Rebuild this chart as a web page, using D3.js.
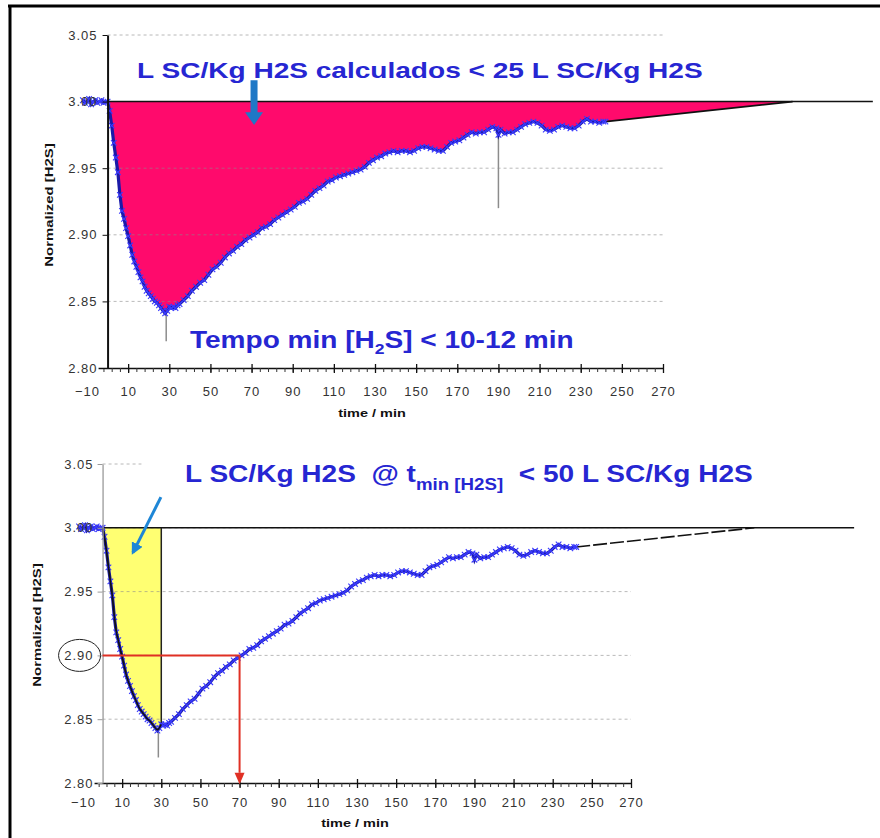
<!DOCTYPE html>
<html>
<head>
<meta charset="utf-8">
<script src="https://cdn.jsdelivr.net/npm/d3@7"></script>
<style>
  body { margin: 0; background: #fff; }
  svg text { font-family: "Liberation Sans", Arial, sans-serif; white-space: pre; }
</style>
</head>
<body>
<svg id="chart" width="880" height="838"></svg>
<script>
// time (min) and normalized [H2S]
const times = [
  -12, -11, -10, -9, -8, -7, -6, -5, -4, -3,
  -2, -1, 0, 1, 2, 3, 4, 5, 6, 7,
  8, 9, 10, 11, 12, 13, 14, 15, 16, 17,
  18, 19, 20, 21, 22, 23, 24, 25, 26, 27,
  28, 29, 30, 31, 32, 33, 34, 35, 37, 39,
  41, 43, 45, 47, 49, 51, 53, 55, 57, 59,
  61, 63, 65, 67, 69, 71, 73, 75, 77, 79,
  81, 83, 85, 87, 89, 91, 93, 95, 97, 99,
  101, 103, 105, 107, 109, 111, 113, 115, 117, 119,
  121, 123, 125, 127, 129, 131, 133, 135, 137, 139,
  141, 143, 145, 147, 149, 151, 153, 155, 157, 159,
  161, 163, 165, 167, 169, 171, 173, 175, 177, 179,
  181, 183, 185, 187, 189, 190, 191, 193, 195, 197,
  199, 201, 203, 205, 207, 209, 211, 213, 215, 217,
  219, 221, 223, 225, 227, 229, 231, 233, 235, 237,
  239, 241, 242
];
const h2s = [
  3.001, 2.999, 3.000, 3.002, 2.998, 3.000, 3.001, 2.999, 3.000, 3.001,
  2.999, 3.000, 3.000, 2.993, 2.982, 2.969, 2.958, 2.947, 2.930, 2.918,
  2.912, 2.905, 2.899, 2.892, 2.885, 2.880, 2.876, 2.872, 2.868, 2.865,
  2.861, 2.858, 2.856, 2.854, 2.852, 2.850, 2.849, 2.847, 2.845, 2.843,
  2.841, 2.843, 2.846, 2.845, 2.846, 2.845, 2.847, 2.848, 2.851, 2.854,
  2.858, 2.861, 2.864, 2.866, 2.870, 2.874, 2.876, 2.879, 2.883, 2.886,
  2.888, 2.891, 2.893, 2.896, 2.898, 2.900, 2.902, 2.905, 2.906, 2.908,
  2.911, 2.913, 2.915, 2.917, 2.919, 2.921, 2.924, 2.925, 2.927, 2.930,
  2.933, 2.935, 2.937, 2.940, 2.941, 2.943, 2.944, 2.945, 2.946, 2.947,
  2.948, 2.949, 2.951, 2.954, 2.956, 2.958, 2.959, 2.961, 2.962, 2.963,
  2.962, 2.963, 2.963, 2.962, 2.963, 2.965, 2.966, 2.966, 2.965, 2.964,
  2.963, 2.963, 2.966, 2.969, 2.970, 2.971, 2.973, 2.975, 2.977, 2.976,
  2.977, 2.977, 2.979, 2.981, 2.980, 2.975, 2.979, 2.976, 2.977, 2.977,
  2.979, 2.981, 2.983, 2.984, 2.985, 2.984, 2.982, 2.979, 2.978, 2.979,
  2.981, 2.982, 2.981, 2.980, 2.980, 2.982, 2.985, 2.987, 2.985, 2.985,
  2.984, 2.985, 2.985
];

// straight extrapolation from the last reading back to the baseline
const tailT = [242, 333];
const tailV = [2.985, 3.000];
const baseline = 3.00;

// gray drop lines (spikes) seen in the data
const spikesTop = [{ t: 28.5, hi: 2.842, lo: 2.82 }, { t: 190, hi: 2.976, lo: 2.92 }];
const spikesBottom = [{ t: 28.5, hi: 2.843, lo: 2.82 }];

const xTicks = [-10, 10, 30, 50, 70, 90, 110, 130, 150, 170, 190, 210, 230, 250, 270];
const xMinor = d3.range(-10, 271, 4);
const yTicks = [2.80, 2.85, 2.90, 2.95, 3.00, 3.05];

const tMin = 30;        // time of min [H2S]
const tAt290 = 70;      // time back at 2.90
const level290 = 2.90;

const data = times.map((t, i) => ({ t: t, v: h2s[i] }));

const svg = d3.select("#chart");
const blueText = "#2626d2";

// frame
svg.append("line").attr("x1", 8).attr("x2", 880).attr("y1", 6).attr("y2", 6)
  .attr("stroke", "#000").attr("stroke-width", 3);
svg.append("line").attr("x1", 10).attr("x2", 10).attr("y1", 5).attr("y2", 838)
  .attr("stroke", "#000").attr("stroke-width", 3);

// stretch a text to a target width
function fit(sel, x, y, w, rot) {
  const bw = sel.node().getBBox().width;
  sel.attr("transform", `translate(${x},${y})` + (rot ? ` rotate(${rot})` : "") + ` scale(${w / bw},1)`);
}

function drawPanel(p) {
  const x = d3.scaleLinear().domain([-10, 270]).range(p.xRange);
  const y = d3.scaleLinear().domain([2.80, 3.05]).range(p.yRange);
  const g = svg.append("g");
  const after0 = data.filter(d => d.t >= 0);

  // pink area between curve and baseline
  if (p.pink) {
    const pts = after0.concat(tailT.map((t, i) => ({ t: t, v: tailV[i] })));
    g.append("path").datum(pts)
      .attr("d", d3.area().x(d => x(d.t)).y0(y(baseline)).y1(d => y(d.v)))
      .attr("fill", "#ff0a6c");
  }
  // yellow area up to t min
  if (p.yellow) {
    g.append("path").datum(after0.filter(d => d.t <= tMin))
      .attr("d", d3.area().x(d => x(d.t)).y0(y(baseline)).y1(d => y(d.v)))
      .attr("fill", "#ffff72");
  }

  // dashed grid
  g.selectAll(".grid").data(yTicks.filter(v => v > 2.80)).enter().append("line")
    .attr("x1", x(0)).attr("x2", x(270))
    .attr("y1", d => y(d)).attr("y2", d => y(d))
    .attr("stroke", "#8a8a8a").attr("stroke-opacity", 0.6)
    .attr("stroke-dasharray", "3,3");

  if (p.textBg) {
    g.append("rect").attr("x", x(20)).attr("y", y(3.064)).attr("width", 650).attr("height", 52)
      .attr("fill", "#fff");
  }

  // baseline and tail
  g.append("line").attr("x1", x(0)).attr("x2", x(p.lineEnd))
    .attr("y1", y(baseline)).attr("y2", y(baseline))
    .attr("stroke", "#111").attr("stroke-width", 1.5);
  g.append("line").attr("x1", x(tailT[0])).attr("x2", x(tailT[1]))
    .attr("y1", y(tailV[0])).attr("y2", y(tailV[1]))
    .attr("stroke", "#111").attr("stroke-width", 1.6)
    .attr("stroke-dasharray", p.tailDash || null);

  if (p.yellow) {
    const vMin = data.find(d => d.t === tMin).v;
    g.append("line").attr("x1", x(tMin)).attr("x2", x(tMin))
      .attr("y1", y(baseline)).attr("y2", y(vMin))
      .attr("stroke", "#222").attr("stroke-width", 1.5);
  }

  // spikes
  g.selectAll(".spike").data(p.spikes).enter().append("line")
    .attr("x1", d => x(d.t)).attr("x2", d => x(d.t))
    .attr("y1", d => y(d.hi)).attr("y2", d => y(d.lo))
    .attr("stroke", "#8c8c8c").attr("stroke-width", 1.5);

  // data line + x markers
  g.append("path").datum(data)
    .attr("d", d3.line().x(d => x(d.t)).y(d => y(d.v)))
    .attr("fill", "none").attr("stroke", "#1a1aa8").attr("stroke-width", 3.2);
  g.selectAll(".mk").data(data).enter().append("path")
    .attr("transform", d => `translate(${x(d.t)},${y(d.v)})`)
    .attr("d", "M-2.8,-2.8L2.8,2.8M-2.8,2.8L2.8,-2.8")
    .attr("stroke", "#3a3aff").attr("stroke-width", 1.1);

  if (p.yellow) {
    g.append("path").datum(after0.filter(d => d.t <= tMin))
      .attr("d", d3.line().x(d => x(d.t)).y(d => y(d.v)).curve(d3.curveBasis))
      .attr("fill", "none").attr("stroke", "#111").attr("stroke-width", 1.6);
  }

  // axes
  const xa = g.append("g").attr("transform", `translate(0,${y(2.80)})`)
    .call(d3.axisBottom(x).tickValues(xMinor).tickSize(4).tickSizeOuter(0).tickFormat(""));
  xa.select(".domain").attr("stroke", "#111").attr("stroke-width", 1.5);
  xa.selectAll(".tick line").attr("stroke", "#333");
  const xm = g.append("g").attr("transform", `translate(0,${y(2.80)})`)
    .call(d3.axisBottom(x).tickValues(xTicks).tickSize(4).tickSizeOuter(0).tickFormat(d3.format("d")));
  xm.select(".domain").remove();
  xm.selectAll(".tick line").attr("y1", -4).attr("y2", 5).attr("stroke", "#111").attr("stroke-width", 1.3);
  xm.selectAll(".tick text").attr("y", p.xLabelY).attr("dy", "0.71em")
    .attr("font-size", 13).attr("letter-spacing", "1px").attr("fill", "#333");

  const ya = g.append("g").attr("transform", `translate(${x(0)},0)`)
    .call(d3.axisLeft(y).tickValues(yTicks).tickSize(5).tickSizeOuter(0)
      .tickPadding(p.yPad).tickFormat(d3.format(".2f")));
  ya.select(".domain").attr("stroke", p.axisColor).attr("stroke-width", p.axisWidth);
  ya.selectAll(".tick line").attr("stroke", p.axisColor);
  ya.selectAll(".tick text").attr("font-size", 13).attr("letter-spacing", "1px").attr("fill", "#333");
  // value labels sit on a white box, so the bottom label hides the axis start
  ya.selectAll(".tick").filter(d => d === 2.80).each(function () {
    const txt = d3.select(this).select("text");
    const bb = txt.node().getBBox();
    d3.select(this).insert("rect", "text")
      .attr("x", bb.x - 1).attr("y", bb.y).attr("width", bb.width + 2).attr("height", bb.height)
      .attr("fill", "#fff");
  });

  // axis titles
  const yt = g.append("text").text("Normalized [H2S]").attr("text-anchor", "middle")
    .attr("font-size", 11).attr("font-weight", "bold").attr("fill", "#111");
  fit(yt, p.yTitle[0], p.yTitle[1], 124, -90);
  const xt = g.append("text").text("time / min").attr("text-anchor", "middle")
    .attr("font-size", 11).attr("font-weight", "bold").attr("fill", "#111");
  fit(xt, p.xTitle[0], p.xTitle[1], 68);

  return { x: x, y: y, g: g };
}

// ---------- top panel ----------
const topP = drawPanel({
  xRange: [87, 663], yRange: [368, 35], pink: true, lineEnd: 372,
  spikes: spikesTop, axisColor: "#111", axisWidth: 2, yPad: 5,
  xLabelY: 19, yTitle: [53, 205], xTitle: [372, 417]
});

const t1 = svg.append("text").text("L SC/Kg H2S calculados < 25 L SC/Kg H2S")
  .attr("font-size", 22).attr("font-weight", "bold").attr("fill", blueText);
fit(t1, 137, 78, 566);

const t2 = svg.append("text").attr("font-size", 24).attr("font-weight", "bold").attr("fill", blueText);
t2.append("tspan").text("Tempo min [H");
t2.append("tspan").text("2").attr("font-size", 15).attr("dy", 6);
t2.append("tspan").text("S] < 10-12 min").attr("dy", -6);
fit(t2, 190, 348, 384);

// blue down arrow
const ax = topP.x(71.2);
svg.append("path")
  .attr("d", `M${ax - 3.5},${topP.y(3.016)}L${ax + 3.5},${topP.y(3.016)}L${ax + 3.5},${topP.y(2.992)}` +
    `L${ax + 9},${topP.y(2.992)}L${ax},${topP.y(2.9825)}L${ax - 9},${topP.y(2.992)}L${ax - 3.5},${topP.y(2.992)}Z`)
  .attr("fill", "#1f78c6");

// ---------- bottom panel ----------
const botP = drawPanel({
  xRange: [83, 631], yRange: [783, 464], yellow: true, textBg: true, lineEnd: 384,
  spikes: spikesBottom, axisColor: "#9a9a9a", axisWidth: 1.3, yPad: 4, tailDash: "14,3",
  xLabelY: 15, yTitle: [41, 625], xTitle: [355, 827]
});

// red guide lines to t at 2.90
svg.append("line").attr("x1", botP.x(0)).attr("x2", botP.x(tAt290))
  .attr("y1", botP.y(level290)).attr("y2", botP.y(level290))
  .attr("stroke", "#e03024").attr("stroke-width", 2);
svg.append("line").attr("x1", botP.x(tAt290)).attr("x2", botP.x(tAt290))
  .attr("y1", botP.y(level290)).attr("y2", botP.y(2.808))
  .attr("stroke", "#e03024").attr("stroke-width", 2);
svg.append("path")
  .attr("d", `M${botP.x(tAt290) - 5},${botP.y(2.808)}L${botP.x(tAt290) + 5},${botP.y(2.808)}L${botP.x(tAt290)},${botP.y(2.799)}Z`)
  .attr("fill", "#e03024");

// circle round the 2.90 label
svg.append("ellipse").attr("cx", botP.x(0) - 23).attr("cy", botP.y(level290))
  .attr("rx", 21).attr("ry", 16)
  .attr("fill", "none").attr("stroke", "#222").attr("stroke-width", 1);

const t3 = svg.append("text").attr("font-size", 24).attr("font-weight", "bold").attr("fill", blueText);
t3.append("tspan").text("L SC/Kg H2S  @ t");
t3.append("tspan").text("min [H2S]").attr("font-size", 16).attr("dy", 8);
t3.append("tspan").text("  < 50 L SC/Kg H2S").attr("dy", -8);
fit(t3, 185, 482, 568);

// blue diagonal arrow
svg.append("defs").append("marker").attr("id", "ah")
  .attr("viewBox", "0 0 10 10").attr("refX", 8).attr("refY", 5)
  .attr("markerWidth", 4).attr("markerHeight", 4).attr("orient", "auto")
  .append("path").attr("d", "M0,0L10,5L0,10Z").attr("fill", "#1e86d6");
svg.append("line")
  .attr("x1", botP.x(29.8)).attr("y1", botP.y(3.024))
  .attr("x2", botP.x(15.5)).attr("y2", botP.y(2.9805))
  .attr("stroke", "#1e86d6").attr("stroke-width", 3)
  .attr("marker-end", "url(#ah)");
</script>
</body>
</html>
